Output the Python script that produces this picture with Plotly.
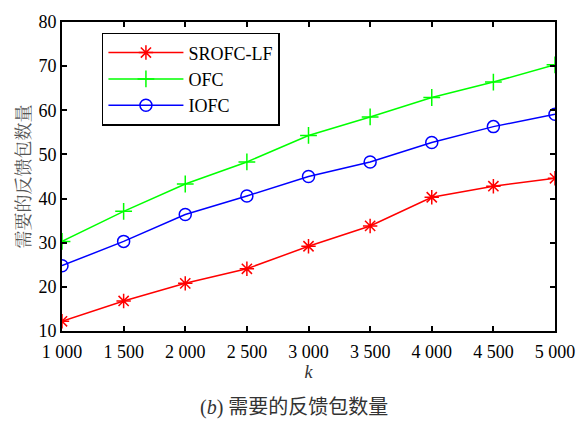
import plotly.graph_objects as go

k_values = [1000, 1500, 2000, 2500, 3000, 3500, 4000, 4500, 5000]
k_labels = ["1 000", "1 500", "2 000", "2 500", "3 000", "3 500", "4 000", "4 500", "5 000"]
srofc_lf = [12.2, 16.8, 20.8, 24.1, 29.2, 33.8, 40.3, 42.8, 44.6]
ofc = [30.3, 37.1, 43.3, 48.3, 54.3, 58.5, 62.9, 66.4, 70.3]
iofc = [24.8, 30.3, 36.4, 40.6, 45.0, 48.3, 52.7, 56.3, 59.1]
y_ticks = [10, 20, 30, 40, 50, 60, 70, 80]

serif = "Liberation Serif"
cjk = "Noto Serif CJK SC, Noto Sans CJK SC"

fig = go.Figure()
series = [
    ("SROFC-LF", srofc_lf, "#ff0000", "asterisk-open"),
    ("OFC", ofc, "#00ff00", "cross-thin-open"),
    ("IOFC", iofc, "#0000ff", "circle-open"),
]
for name, vals, color, sym in series:
    fig.add_trace(go.Scatter(
        x=k_values, y=vals, name=name, mode="lines+markers",
        line=dict(color=color, width=1.5),
        marker=dict(symbol=sym, size=12, color=color, line=dict(color=color, width=1.5)),
    ))

tick_font = dict(family=serif, size=18, color="black")
axis_common = dict(
    showgrid=False, zeroline=False, showline=True, linecolor="black", linewidth=2,
    mirror="ticks", ticks="inside", ticklen=5, tickcolor="black", tickwidth=1.5,
)
fig.update_xaxes(
    range=[1000, 5000], tickvals=k_values, ticktext=k_labels, ticklabelstandoff=3,
    tickfont=tick_font,
    title=dict(text="<i>k</i>", font=dict(family=serif, size=18, color="#333"), standoff=4),
    **axis_common,
)
fig.update_yaxes(
    range=[10, 80], tickvals=y_ticks, tickfont=tick_font,
    title=dict(text="需要的反馈包数量", font=dict(family=cjk, size=18, color="#555"), standoff=3),
    **axis_common,
)

fig.add_annotation(
    text="(<i>b</i>) <span style='font-family:Noto Sans CJK SC'>需要的反馈包数量</span>",
    xref="paper", yref="paper",
    x=0.47, y=-0.24, xanchor="center", yanchor="middle", showarrow=False,
    font=dict(family=serif, size=20, color="#333"),
)

fig.update_layout(
    width=587, height=421,
    margin=dict(l=62, r=30, t=13, b=90),
    paper_bgcolor="white", plot_bgcolor="white",
    font=dict(family=serif, color="black"),
    legend=dict(
        x=0.081, y=0.965, xanchor="left", yanchor="top",
        bordercolor="black", borderwidth=1.5, bgcolor="white",
        font=dict(family=serif, size=18, color="black"),
        itemwidth=75, tracegroupgap=4,
    ),
    showlegend=True,
)

fig.write_html("out.html")
